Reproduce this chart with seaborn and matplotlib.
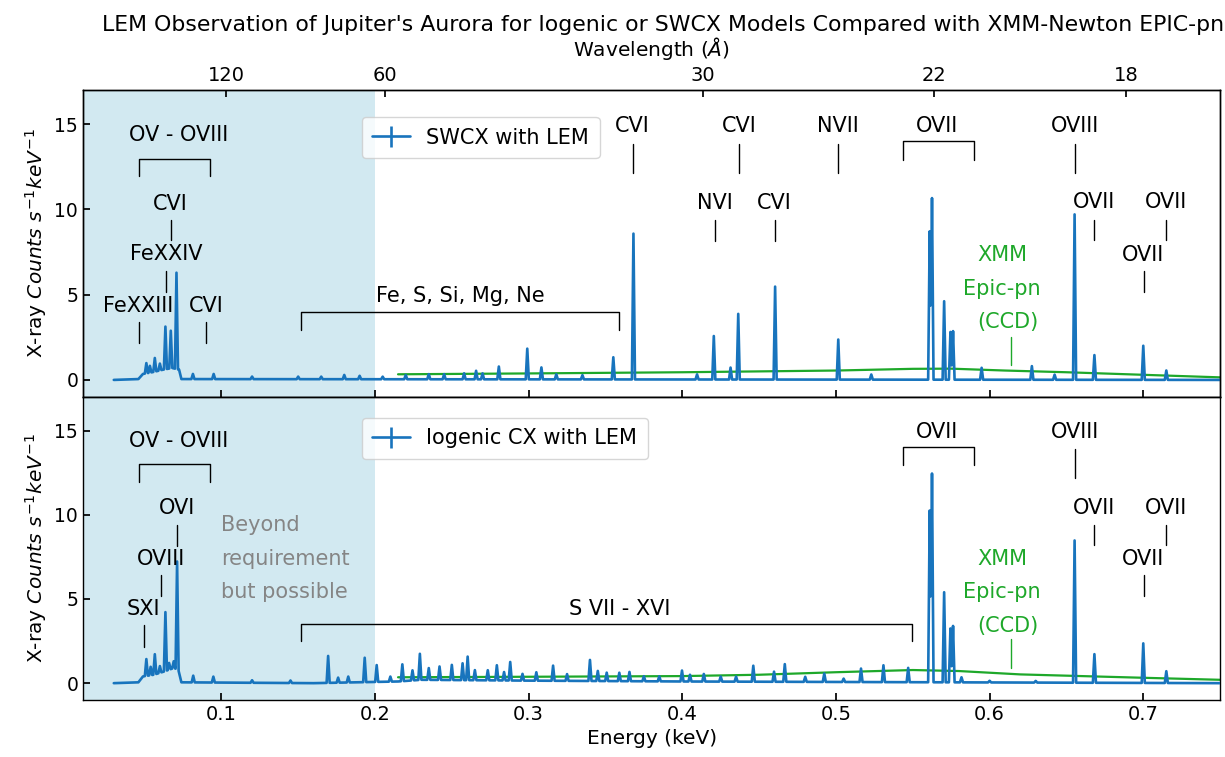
import numpy as np
import matplotlib
matplotlib.use("Agg")
import matplotlib.pyplot as plt
import seaborn as sns

# ---------------- data ----------------
HC = 12.398  # keV * Angstrom

# SWCX model observed with LEM: emission lines (keV) and heights above continuum
swcx_line_keV = [0.0512, 0.0535, 0.0567, 0.0600, 0.0636, 0.0671, 0.0708, 0.0815, 0.0950,
                 0.1200, 0.1500, 0.1650, 0.1800, 0.1900, 0.2050, 0.2200, 0.2350, 0.2450,
                 0.2580, 0.2658, 0.2700, 0.2806, 0.2991, 0.3083, 0.3180, 0.3350, 0.3551,
                 0.3682, 0.4096, 0.4205, 0.4314, 0.4364, 0.4604, 0.5015, 0.5230, 0.5610,
                 0.5625, 0.5704, 0.5745, 0.5762, 0.5948, 0.6275, 0.6423, 0.6553, 0.6682,
                 0.7000, 0.7150]
swcx_line_height = [0.6, 0.4, 0.8, 0.4, 2.5, 2.2, 5.65, 0.3, 0.3,
                    0.15, 0.15, 0.15, 0.25, 0.2, 0.15, 0.25, 0.3, 0.3,
                    0.35, 0.5, 0.35, 0.75, 1.8, 0.7, 0.3, 0.25, 1.3,
                    8.55, 0.3, 2.55, 0.7, 3.85, 5.45, 2.35, 0.3, 8.7,
                    10.65, 4.6, 2.8, 2.85, 0.7, 0.8, 0.3, 9.7, 1.45,
                    2.0, 0.55]
swcx_cont_keV = [0.030, 0.046, 0.049, 0.055, 0.062, 0.068, 0.0725, 0.074, 0.75]
swcx_cont = [0.0, 0.05, 0.35, 0.45, 0.6, 0.7, 0.6, 0.05, 0.0]

# Iogenic CX model observed with LEM
io_line_keV = [0.0512, 0.0540, 0.0567, 0.0600, 0.0636, 0.0660, 0.0690, 0.0712, 0.0817,
               0.0948, 0.1200, 0.1450, 0.1695, 0.1760, 0.1826, 0.1933, 0.2011, 0.2100,
               0.2178, 0.2244, 0.2292, 0.2350, 0.2420, 0.2500, 0.2570, 0.2603, 0.2650,
               0.2734, 0.2793, 0.2840, 0.2880, 0.2960, 0.3050, 0.3159, 0.3250, 0.3399,
               0.3450, 0.3508, 0.3590, 0.3656, 0.3750, 0.3850, 0.3998, 0.4050, 0.4140,
               0.4250, 0.4350, 0.4462, 0.4597, 0.4667, 0.4800, 0.4924, 0.5050, 0.5163,
               0.5309, 0.5470, 0.5610, 0.5625, 0.5704, 0.5745, 0.5762, 0.5817, 0.6000,
               0.6300, 0.6553, 0.6682, 0.7000, 0.7150]
io_line_height = [1.0, 0.5, 1.2, 0.4, 3.5, 0.4, 0.4, 6.4, 0.4,
                  0.35, 0.15, 0.15, 1.6, 0.3, 0.35, 1.45, 1.0, 0.3,
                  1.0, 0.6, 1.55, 0.7, 0.8, 0.9, 1.0, 1.4, 0.6,
                  0.6, 0.9, 0.5, 1.1, 0.4, 0.5, 0.9, 0.4, 1.25,
                  0.6, 0.5, 0.5, 0.55, 0.3, 0.3, 0.65, 0.4, 0.45,
                  0.3, 0.3, 0.95, 0.6, 1.05, 0.3, 0.5, 0.2, 0.8,
                  1.0, 0.85, 10.2, 12.4, 5.35, 3.2, 3.35, 0.3, 0.1,
                  0.1, 8.45, 1.7, 2.35, 0.7]
io_cont_keV = [0.030, 0.046, 0.049, 0.056, 0.063, 0.069, 0.072, 0.074, 0.16, 0.215,
               0.23, 0.30, 0.40, 0.75]
io_cont = [0.0, 0.05, 0.4, 0.5, 0.7, 0.9, 0.8, 0.05, 0.0, 0.1,
           0.2, 0.15, 0.1, 0.0]

# XMM-Newton EPIC-pn (CCD) model
xmm_top_keV = [0.215, 0.30, 0.40, 0.50, 0.55, 0.575, 0.61, 0.65, 0.70, 0.75]
xmm_top = [0.33, 0.38, 0.45, 0.55, 0.65, 0.66, 0.55, 0.45, 0.30, 0.15]
xmm_bot_keV = [0.215, 0.30, 0.40, 0.45, 0.50, 0.55, 0.58, 0.62, 0.66, 0.70, 0.75]
xmm_bot = [0.35, 0.38, 0.42, 0.50, 0.65, 0.78, 0.72, 0.52, 0.42, 0.32, 0.20]

wavelength_ticks = [120, 60, 30, 22, 18]
energy_ticks = [0.1, 0.2, 0.3, 0.4, 0.5, 0.6, 0.7]
y_ticks = [0, 5, 10, 15]

BLUE = "#1874bd"
GREEN = "#1ea82a"
LINE_W = 0.0010


def build_spectrum(cont_x, cont_y, line_x, line_h):
    """Piecewise-linear spectrum: continuum plus narrow triangular lines."""
    cont_x = np.asarray(cont_x)
    cont_y = np.asarray(cont_y)
    lx = np.asarray(line_x)
    lh = np.asarray(line_h)
    xs = np.unique(np.concatenate([cont_x, lx - LINE_W, lx, lx + LINE_W]))
    ys = np.interp(xs, cont_x, cont_y)
    for c, h in zip(lx, lh):
        ys = ys + h * np.clip(1 - np.abs(xs - c) / LINE_W, 0, None)
    return xs, ys


# ---------------- style ----------------
sns.set_theme(style="ticks")
plt.rcParams["font.family"] = ["DejaVu Sans"]
plt.rcParams.update({
    "xtick.direction": "in", "ytick.direction": "in",
    "xtick.labelsize": 14, "ytick.labelsize": 13.5,
    "axes.edgecolor": "black", "axes.linewidth": 1.0,
    "xtick.color": "black", "ytick.color": "black",
    "axes.labelcolor": "black", "text.color": "black",
})

fig = plt.figure(figsize=(12.25, 7.57), dpi=100)
ax1 = fig.add_axes([0.0678, 0.4756, 0.9282, 0.4055])
ax2 = fig.add_axes([0.0678, 0.0753, 0.9282, 0.4003], sharex=ax1, sharey=ax1)

ANN = 15


def tick(ax, x, y0, y1, color="black"):
    ax.plot([x, x], [y0, y1], color=color, lw=1.0)


def bracket(ax, x0, x1, yh, ye):
    ax.plot([x0, x0, x1, x1], [ye, yh, yh, ye], color="black", lw=1.0)


def label(ax, text, x, y, color="black"):
    ax.text(x, y, text, ha="center", va="center", fontsize=ANN, color=color)


for ax, (cx, cy, lx, lh), (gx, gy), name, ly in [
    (ax1, (swcx_cont_keV, swcx_cont, swcx_line_keV, swcx_line_height), (xmm_top_keV, xmm_top), "SWCX with LEM", 0.945),
    (ax2, (io_cont_keV, io_cont, io_line_keV, io_line_height), (xmm_bot_keV, xmm_bot), "Iogenic CX with LEM", 0.965),
]:
    ax.axvspan(0.01, 0.2, color="lightblue", alpha=0.55, lw=0, zorder=0)
    sx, sy = build_spectrum(cx, cy, lx, lh)
    sns.lineplot(x=gx, y=gy, ax=ax, color=GREEN, lw=1.6, estimator=None, sort=False, zorder=2)
    sns.lineplot(x=sx, y=sy, ax=ax, color=BLUE, lw=1.9, estimator=None, sort=False, zorder=3)
    h = ax.errorbar([np.nan], [np.nan], yerr=[np.nan], color=BLUE, lw=1.9)
    ax.legend(handles=[h], labels=[name], loc="upper left",
              bbox_to_anchor=(0.236, ly),
              fontsize=15, handlelength=1.8, borderpad=0.5)
    ax.set_yticks(y_ticks)
    ax.tick_params(axis="both", which="both", top=False, right=False, length=5)
    ax.set_ylabel(r"X-ray $Counts\ s^{-1}keV^{-1}$", fontsize=14.5)

ax1.set_xlim(0.01, 0.75)
ax1.set_ylim(-1, 17)
ax1.set_xticks(energy_ticks)
ax1.tick_params(axis="x", labelbottom=False, bottom=False)
ax2.set_xlabel("Energy (keV)", fontsize=14.5)

# ---- top panel annotations ----
label(ax1, "OV - OVIII", 0.0723, 14.35); bracket(ax1, 0.0462, 0.0926, 12.94, 11.94)
label(ax1, "CVI", 0.0669, 10.33); tick(ax1, 0.0671, 9.35, 8.18)
label(ax1, "FeXXIV", 0.0643, 7.39); tick(ax1, 0.0643, 6.41, 5.14)
label(ax1, "FeXXIII", 0.0458, 4.35); tick(ax1, 0.0462, 3.37, 2.16)
label(ax1, "CVI", 0.0900, 4.35); tick(ax1, 0.0902, 3.37, 2.16)
label(ax1, "Fe, S, Si, Mg, Ne", 0.2556, 4.9); bracket(ax1, 0.1516, 0.3586, 4.0, 2.95)
label(ax1, "CVI", 0.3675, 14.88); tick(ax1, 0.3677, 13.86, 12.14)
label(ax1, "CVI", 0.4368, 14.88); tick(ax1, 0.4368, 13.86, 12.14)
label(ax1, "NVII", 0.5011, 14.88); tick(ax1, 0.5013, 13.86, 12.14)
label(ax1, "NVI", 0.4211, 10.39); tick(ax1, 0.4211, 9.35, 8.14)
label(ax1, "CVI", 0.4597, 10.39); tick(ax1, 0.4600, 9.35, 8.14)
label(ax1, "OVII", 0.5660, 14.88); bracket(ax1, 0.5436, 0.5900, 14.0, 12.92)
label(ax1, "OVIII", 0.6558, 14.88); tick(ax1, 0.6558, 13.86, 12.14)
label(ax1, "OVII", 0.6678, 10.43); tick(ax1, 0.6682, 9.35, 8.18)
label(ax1, "OVII", 0.7146, 10.43); tick(ax1, 0.7150, 9.35, 8.18)
label(ax1, "OVII", 0.7000, 7.35); tick(ax1, 0.7005, 6.37, 5.14)
label(ax1, "XMM", 0.6085, 7.35, GREEN)
label(ax1, "Epic-pn", 0.6078, 5.33, GREEN)
label(ax1, "(CCD)", 0.6122, 3.37, GREEN); tick(ax1, 0.6137, 2.53, 0.88, GREEN)

# ---- bottom panel annotations ----
label(ax2, "OV - OVIII", 0.0723, 14.37); bracket(ax2, 0.0462, 0.0926, 13.0, 11.96)
label(ax2, "OVI", 0.0712, 10.39); tick(ax2, 0.0712, 9.41, 8.14)
label(ax2, "OVIII", 0.0610, 7.39); tick(ax2, 0.0610, 6.41, 5.16)
label(ax2, "SXI", 0.0490, 4.41); tick(ax2, 0.0495, 3.43, 2.16)
for txt, yy in [("Beyond", 9.41), ("requirement", 7.39), ("but possible", 5.43)]:
    ax2.text(0.0998, yy, txt, ha="left", va="center", fontsize=ANN, color="#858585")
label(ax2, "S VII - XVI", 0.3595, 4.41); bracket(ax2, 0.1516, 0.5495, 3.5, 2.49)
label(ax2, "OVII", 0.5660, 14.9); bracket(ax2, 0.5436, 0.5900, 14.02, 12.94)
label(ax2, "OVIII", 0.6558, 14.9); tick(ax2, 0.6558, 13.92, 12.16)
label(ax2, "OVII", 0.6678, 10.39); tick(ax2, 0.6682, 9.41, 8.18)
label(ax2, "OVII", 0.7146, 10.39); tick(ax2, 0.7150, 9.41, 8.18)
label(ax2, "OVII", 0.7000, 7.39); tick(ax2, 0.7005, 6.41, 5.16)
label(ax2, "XMM", 0.6085, 7.39, GREEN)
label(ax2, "Epic-pn", 0.6078, 5.39, GREEN)
label(ax2, "(CCD)", 0.6122, 3.39, GREEN); tick(ax2, 0.6137, 2.61, 0.92, GREEN)

# ---- top wavelength axis ----
axt = ax1.twiny()
axt.set_xlim(ax1.get_xlim())
axt.set_xticks([HC / w for w in wavelength_ticks])
axt.set_xticklabels([str(w) for w in wavelength_ticks])
axt.tick_params(axis="x", direction="in", length=5, labelsize=14)
axt.set_xlabel(r"Wavelength ($\AA$)", fontsize=14.5, labelpad=7)
axt.set_title("LEM Observation of Jupiter's Aurora for Iogenic or SWCX Models Compared with XMM-Newton EPIC-pn",
              fontsize=15.8, pad=2, x=0.5097)

fig.savefig("out.png", dpi=100)
